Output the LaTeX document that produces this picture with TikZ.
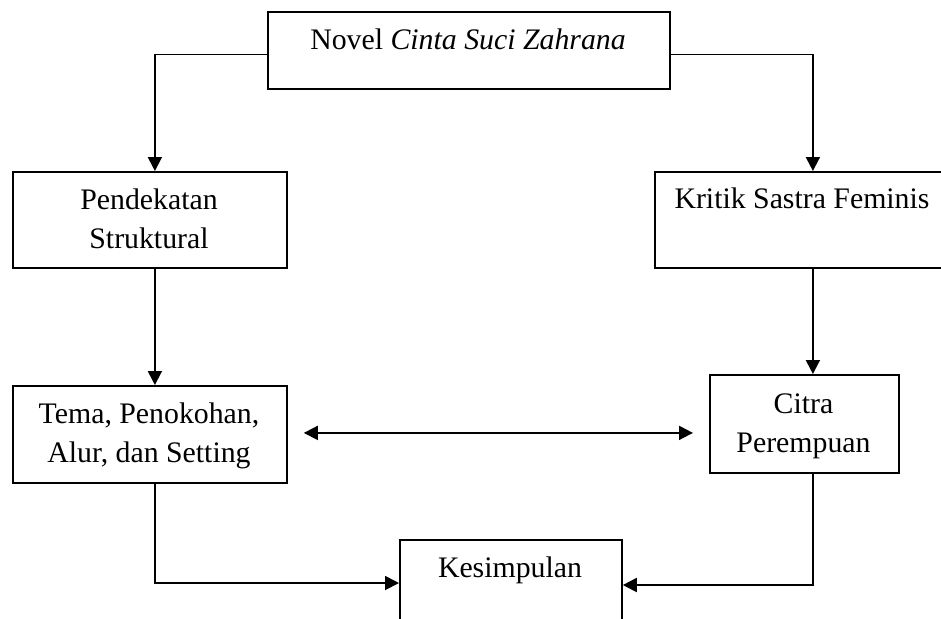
\documentclass[tikz,border=0pt]{standalone}
\usepackage{fontspec}
\setmainfont{Liberation Serif}
\usetikzlibrary{arrows.meta,calc}
\begin{document}
\begin{tikzpicture}[x=0.5pt,y=-0.5pt,
  box/.style={draw,line width=0.9pt,rectangle,anchor=north west,inner sep=0pt},
  lbl/.style={anchor=base,align=center,inner sep=0pt,font=\fontsize{14.9}{19.5}\selectfont},
  conn/.style={line width=0.9pt,-{Triangle[length=7pt,width=7pt]}},
  conn2/.style={line width=0.9pt,{Triangle[length=7pt,width=7pt]}-{Triangle[length=7pt,width=7pt]}}]
\useasboundingbox (0,0) rectangle (941,618);
\fill[white] (0,0) rectangle (941,618);
\clip (0,0) rectangle (941,618);
% boxes
\node[box,minimum width=201pt,minimum height=38.5pt] (top) at (267,11) {};
\node[box,minimum width=137pt,minimum height=48pt] (pend) at (12,171) {};
\node[box,minimum width=148pt,minimum height=48pt] (krit) at (654,171) {};
\node[box,minimum width=137pt,minimum height=48.5pt] (tema) at (12,385) {};
\node[box,minimum width=94.5pt,minimum height=49pt] (citra) at (709,374) {};
\node[box,minimum width=111pt,minimum height=50pt] (kes) at (399,539) {};
% texts (base anchor = baseline of last line)
\node[lbl] (ttop) at (468,49) {Novel \textit{Cinta Suci Zahrana}};
\node[lbl] (tpend) at (149,248) {Pendekatan\\Struktural};
\node[lbl] (tkrit) at (802,208) {Kritik Sastra Feminis};
\node[lbl] (ttema) at (149,462) {Tema, Penokohan,\\Alur, dan Setting};
\node[lbl] (tcitra) at (803.5,452) {Citra\\Perempuan};
\node[lbl] (tkes) at (510,577) {Kesimpulan};
% connectors
\draw[conn] ([yshift=-2pt]top.west) -| ([xshift=2.5pt]pend.north);
\draw[conn] ([yshift=-2pt]top.east) -| ([xshift=5pt]krit.north);
\draw[conn] ([xshift=2.5pt]pend.south) -- ([xshift=2.5pt]tema.north);
\coordinate (k) at ([xshift=5pt]krit.south);
\draw[conn] (k) -- (k |- citra.north);
\coordinate (d1) at ([xshift=8pt,yshift=0.75pt]tema.east);
\coordinate (d2) at ([xshift=-8pt]citra.west);
\draw[conn2] (d1) -- (d1 -| d2);
\coordinate (kl) at ([yshift=-22pt]kes.north west);
\coordinate (kr) at ([yshift=-23pt]kes.north east);
\draw[conn] ([xshift=2.5pt]tema.south) |- (kl);
\draw[conn] ([xshift=4.25pt]citra.south) |- (kr);
\end{tikzpicture}
\end{document}
